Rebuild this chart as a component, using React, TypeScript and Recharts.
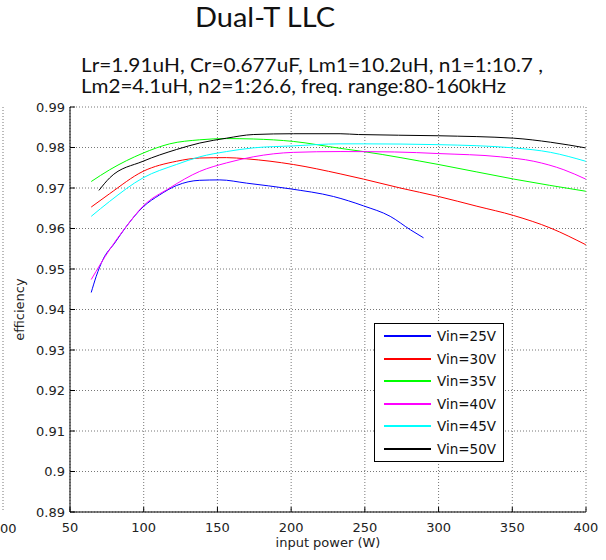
import React from 'react';
import { LineChart, Line, XAxis, YAxis, CartesianGrid, Legend } from 'recharts';

// input power (W), efficiency
const vin25: [number, number][] = [
  [64.4, 0.9442], [67.8, 0.9482], [72.3, 0.9523], [80.3, 0.9564], [88.2, 0.9605],
  [99.5, 0.9653], [110.8, 0.9683], [122.2, 0.9706], [138, 0.9719], [151.6, 0.972],
  [169.8, 0.9712], [199.2, 0.9698], [228.7, 0.9679], [249, 0.9656], [267.2, 0.963],
  [280.8, 0.9597], [289.8, 0.9577],
];
const vin30: [number, number][] = [
  [64.4, 0.9653], [76.9, 0.9686], [99.5, 0.9741], [122.2, 0.9766], [138, 0.9774],
  [156.2, 0.9775], [169.8, 0.9772], [201.5, 0.9758], [233.2, 0.9735], [249, 0.9722],
  [274, 0.97], [300, 0.9679], [326, 0.9655], [351, 0.9632], [376, 0.9601], [399.8, 0.956],
];
const vin35: [number, number][] = [
  [64.4, 0.9716], [76.9, 0.9745], [99.5, 0.9786], [117.6, 0.9809], [138, 0.9819],
  [156.2, 0.9822], [174.3, 0.9821], [201.5, 0.9815], [233.2, 0.9798], [249, 0.979],
  [300, 0.9758], [351, 0.9722], [399.8, 0.9692],
];
const vin40: [number, number][] = [
  [64.4, 0.9474], [76.9, 0.9548], [88.2, 0.9605], [99.5, 0.9655], [117.6, 0.97],
  [138, 0.9741], [156.2, 0.9762], [174.3, 0.9777], [201.5, 0.9788], [233.2, 0.979],
  [270, 0.9789], [300, 0.9785], [342, 0.9777], [364.6, 0.9766], [385, 0.9745], [399.8, 0.9722],
];
const vin45: [number, number][] = [
  [64.4, 0.963], [76.9, 0.9667], [99.5, 0.9725], [122.2, 0.9758], [138, 0.9777],
  [156.2, 0.979], [174.3, 0.9799], [201.5, 0.9804], [233.2, 0.9809], [249, 0.9809],
  [300, 0.9807], [351, 0.9799], [376, 0.9788], [399.8, 0.9766],
];
const vin50: [number, number][] = [
  [69.6, 0.9694], [76.9, 0.9725], [99.5, 0.9766], [122.2, 0.9795], [138, 0.9811],
  [156.2, 0.9823], [174.3, 0.9832], [201.5, 0.9834], [233.2, 0.9834], [245.7, 0.9832],
  [300, 0.9829], [351, 0.9823], [376, 0.9813], [399.8, 0.9799],
];

const seriesData = [vin25, vin30, vin35, vin40, vin45, vin50];
const seriesNames = ['Vin=25V', 'Vin=30V', 'Vin=35V', 'Vin=40V', 'Vin=45V', 'Vin=50V'];
const seriesColors = ['#0000ff', '#ff0000', '#00ff00', '#ff00ff', '#00ffff', '#000000'];

const powerTicks = [50, 100, 150, 200, 250, 300, 350, 400];
const effTicks = [0.89, 0.9, 0.91, 0.92, 0.93, 0.94, 0.95, 0.96, 0.97, 0.98, 0.99];

const titleText = 'Dual-T LLC';
const subtitleLines = [
  'Lr=1.91uH, Cr=0.677uF, Lm1=10.2uH, n1=1:10.7 ,',
  'Lm2=4.1uH, n2=1:26.6, freq. range:80-160kHz',
];

const axisFont = { fontFamily: 'DejaVu Sans', fontSize: 13, fill: '#222' };
const gillFont = 'Lato, "Open Sans", sans-serif';

const toPoints = (rows: [number, number][]) => rows.map(([p, e]) => ({ p, e }));

const renderLegend = (props: any) => {
  const items = props.payload || [];
  return (
    <div
      style={{
        width: 130,
        height: 139,
        boxSizing: 'border-box',
        border: '1px solid #000',
        background: '#fff',
        paddingTop: 1,
        fontFamily: 'DejaVu Sans',
        fontSize: 13.5,
        color: '#111',
      }}
    >
      {items.map((item: any) => (
        <div key={item.value} style={{ display: 'flex', alignItems: 'center', height: 22.5 }}>
          <span style={{ marginLeft: 9, width: 47, height: 2, background: item.color }} />
          <span style={{ marginLeft: 6 }}>{item.value}</span>
        </div>
      ))}
    </div>
  );
};

export default function App() {
  return (
    <div style={{ position: 'absolute', left: 0, top: 0, width: 606, height: 560, background: '#fff' }}>
      <LineChart width={606} height={560} margin={{ top: 107, right: 20, bottom: 0, left: 0 }}>
        <CartesianGrid stroke="#777" strokeDasharray="1 2" />
        <XAxis
          dataKey="p"
          type="number"
          domain={[50, 400]}
          ticks={powerTicks}
          height={48}
          tick={axisFont}
          tickSize={-5}
          tickMargin={16}
          tickLine={{ stroke: '#000' }}
          axisLine={{ stroke: '#000' }}
          label={{ value: 'input power (W)', position: 'insideBottom', offset: 13, style: axisFont }}
        />
        <XAxis
          xAxisId="top"
          orientation="top"
          type="number"
          domain={[50, 400]}
          ticks={powerTicks}
          height={0}
          tickSize={-5}
          tickFormatter={() => ''}
          tickLine={{ stroke: '#000' }}
          axisLine={false}
        />
        <YAxis
          type="number"
          domain={[0.89, 0.99]}
          ticks={effTicks}
          width={70}
          tick={axisFont}
          tickSize={-5}
          tickMargin={10}
          tickLine={{ stroke: '#000' }}
          axisLine={{ stroke: '#000' }}
          label={{
            value: 'efficiency',
            angle: -90,
            position: 'insideLeft',
            offset: 19,
            style: { ...axisFont, textAnchor: 'middle' },
          }}
        />
        <YAxis
          yAxisId="right"
          orientation="right"
          type="number"
          domain={[0.89, 0.99]}
          ticks={effTicks}
          width={0}
          tickSize={-5}
          tickFormatter={() => ''}
          tickLine={{ stroke: '#000' }}
          axisLine={false}
        />
        <Legend
          layout="vertical"
          align="center"
          verticalAlign="middle"
          content={renderLegend}
          wrapperStyle={{ position: 'absolute', left: 374, top: 323, width: 130, height: 139 }}
        />
        {seriesData.map((rows, i) => (
          <Line
            key={seriesNames[i]}
            data={toPoints(rows)}
            dataKey="e"
            name={seriesNames[i]}
            type="monotone"
            stroke={seriesColors[i]}
            strokeWidth={1}
            dot={false}
            isAnimationActive={false}
          />
        ))}
      </LineChart>

      <svg
        width={606}
        height={560}
        style={{ position: 'absolute', left: 0, top: 0, pointerEvents: 'none' }}
      >
        <text x={195} y={27} fontFamily={gillFont} fontSize={27} fill="#111" textLength={140} lengthAdjust="spacingAndGlyphs">
          {titleText}
        </text>
        <text x={81} y={72} fontFamily={gillFont} fontSize={19} fill="#111" textLength={462} lengthAdjust="spacingAndGlyphs">
          {subtitleLines[0]}
        </text>
        <text x={81} y={93} fontFamily={gillFont} fontSize={19} fill="#111" textLength={425} lengthAdjust="spacingAndGlyphs">
          {subtitleLines[1]}
        </text>
        {/* edge of the neighbouring plot, cut off at the left */}
        <line x1={3} y1={107} x2={3} y2={512} stroke="#777" strokeDasharray="1 2" />
        <text x={0} y={533} fontFamily="DejaVu Sans" fontSize={13} fill="#222">
          00
        </text>
      </svg>
    </div>
  );
}
